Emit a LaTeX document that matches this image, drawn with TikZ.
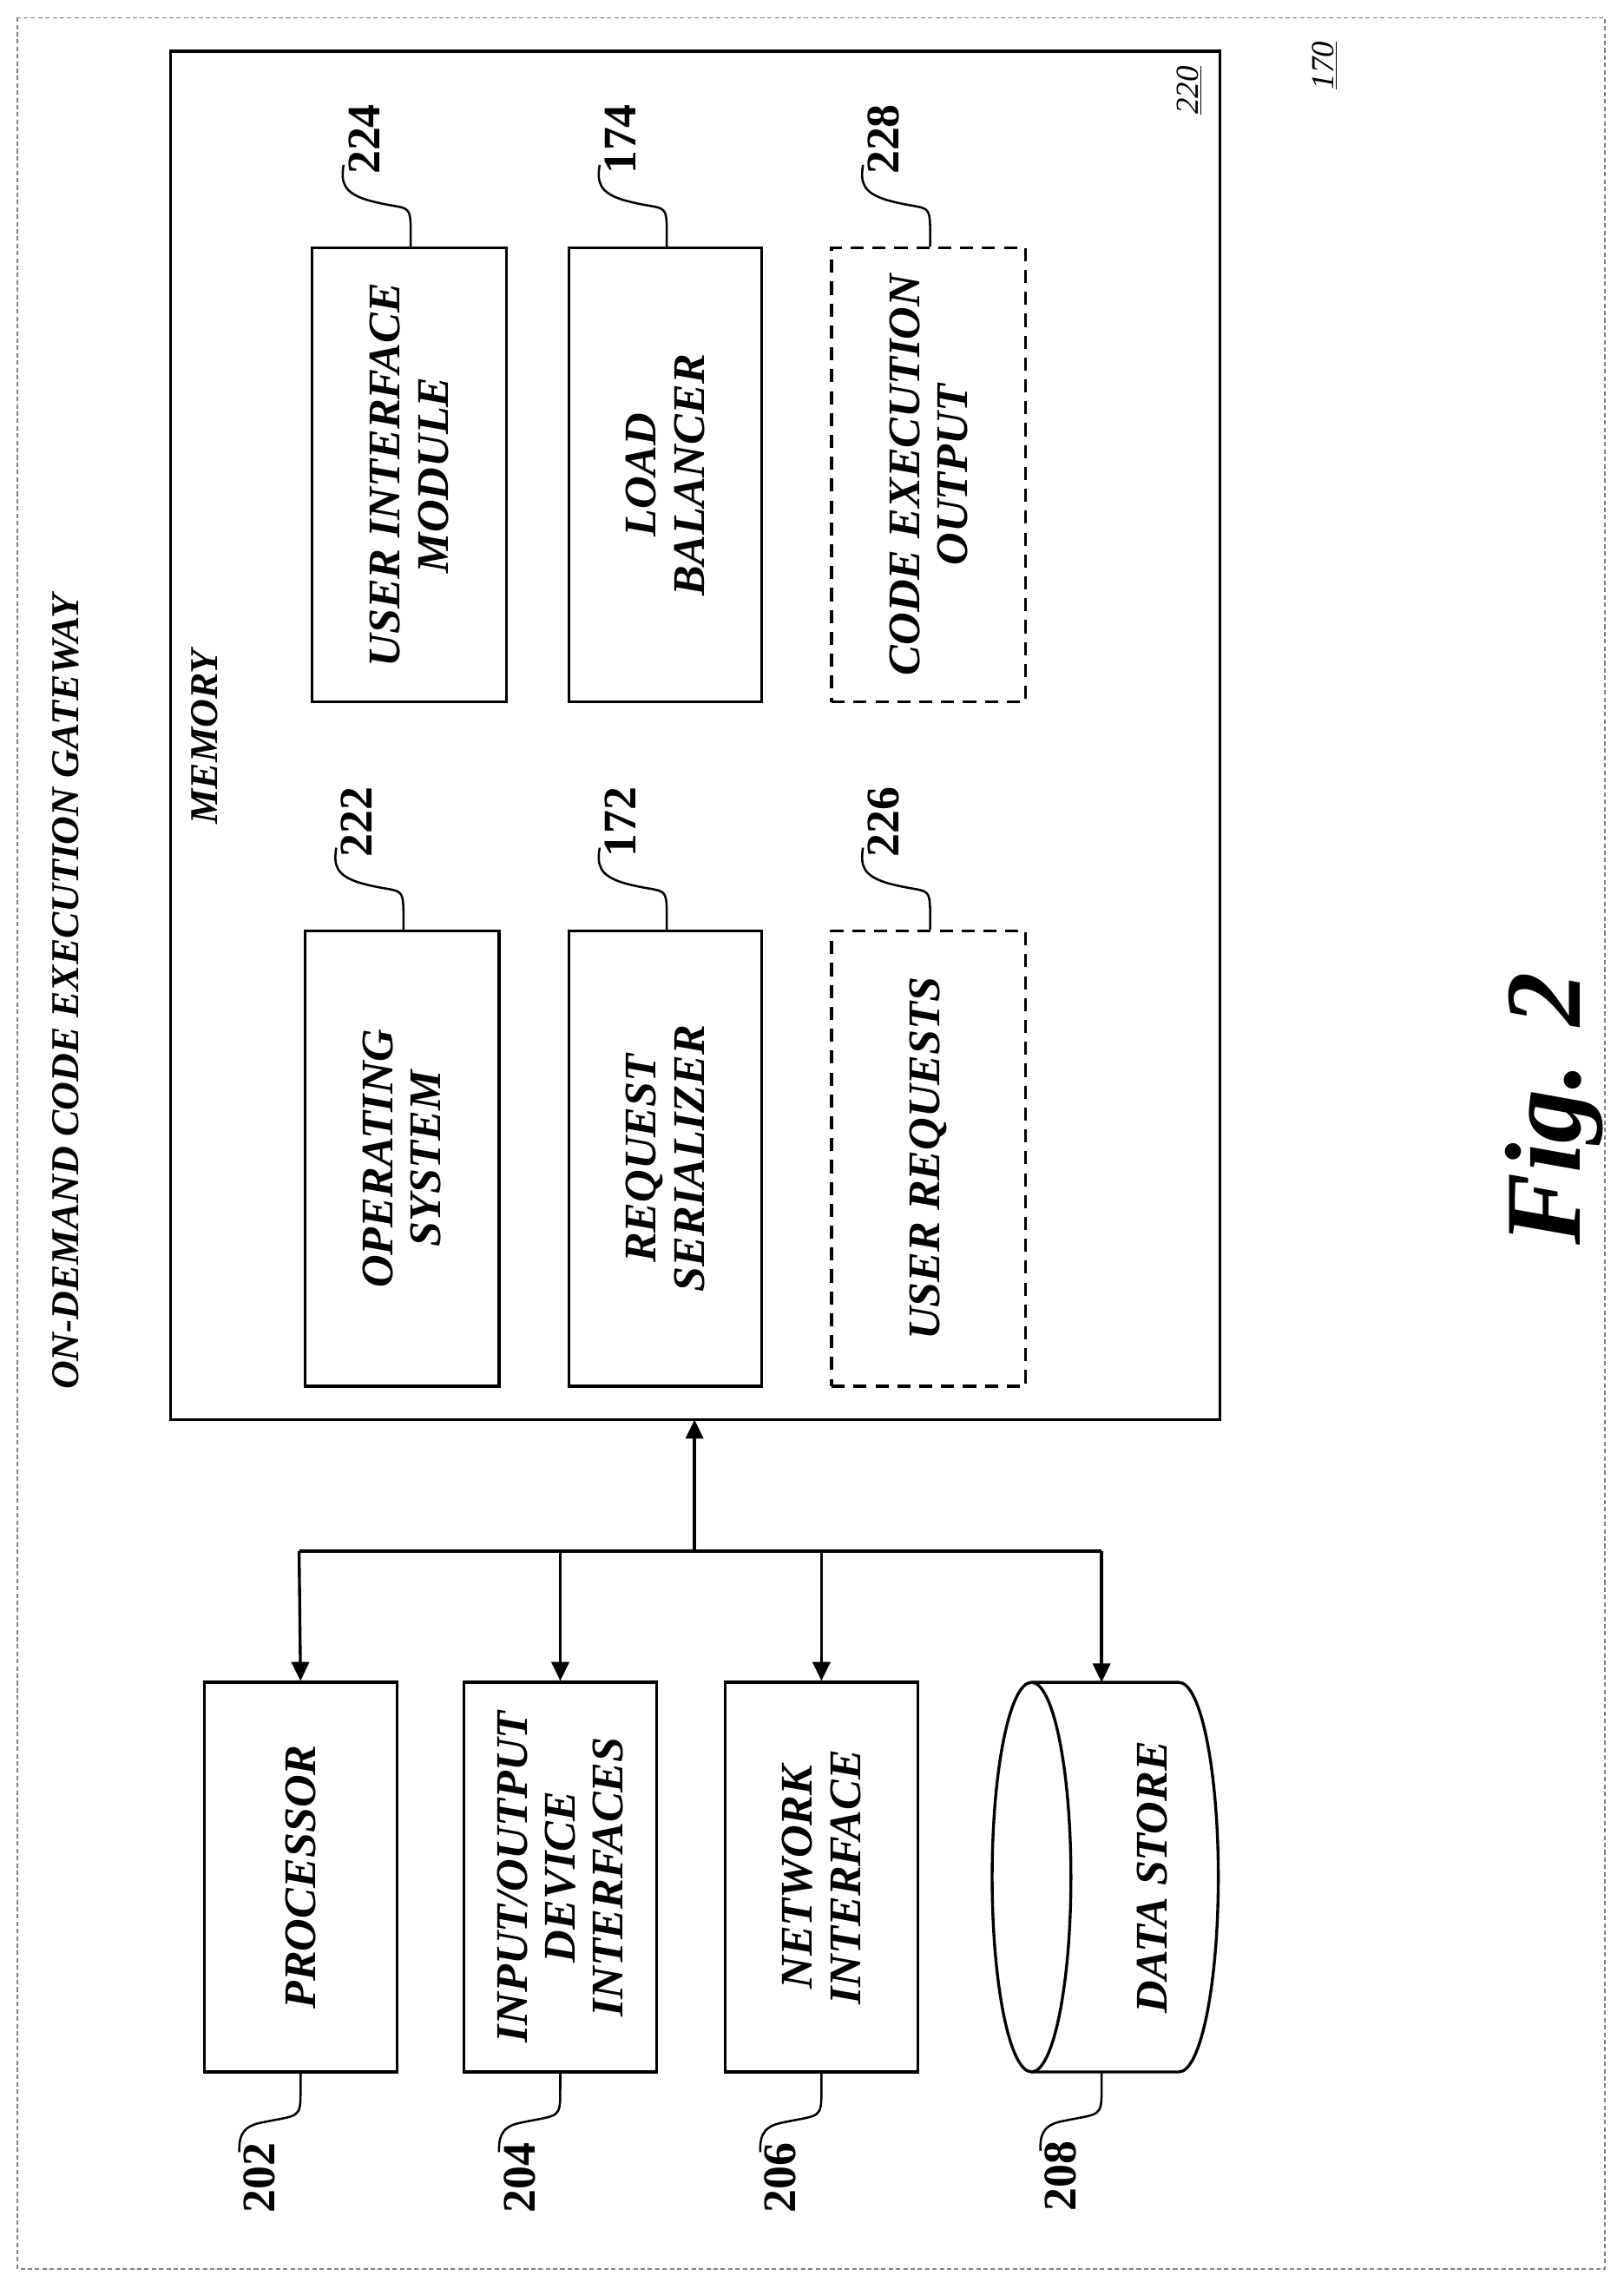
\documentclass[tikz,border=0pt]{standalone}
\usepackage{fontspec}
\setmainfont{Liberation Serif}
\usetikzlibrary{arrows.meta}
\begin{document}
\begin{tikzpicture}[x=1pt,y=-1pt,
  lbl/.style={rotate=90,align=center,font=\fontsize{31}{33}\selectfont\bfseries\itshape},
  num/.style={rotate=90,font=\fontsize{32}{34}\selectfont\bfseries},
  box/.style={draw,line width=2pt},
  dbox/.style={draw,line width=2pt,dash pattern=on 9pt off 6pt},
  ln/.style={line width=2pt},
  arr/.style={line width=2pt,-{Triangle[length=13pt,width=12pt]}}]
\useasboundingbox (0,0) rectangle (1113,1564);
\draw[gray,dash pattern=on 3pt off 2pt,line width=0.8pt] (12,12) rectangle (1100,1555);
\node[rotate=90,font=\fontsize{22}{24}\selectfont\itshape] (n170) at (908,45) {\underline{170}};
\node[lbl,font=\fontsize{27}{29}\selectfont\bfseries\itshape] (title) at (45,680) {ON-DEMAND CODE EXECUTION GATEWAY};
\draw[box] (117,35) rectangle (836,973);
\coordinate (mem) at (476,973);
\node[rotate=90,font=\fontsize{22}{24}\selectfont\itshape] (n220) at (815,62) {\underline{220}};
\node[lbl,font=\fontsize{27}{29}\selectfont\bfseries\itshape] (memory) at (140,505) {MEMORY};
% memory boxes
\node[box,minimum width=133pt,minimum height=311pt] (uim) at (280.5,325.5) {};
\node[lbl] at (uim) {USER INTERFACE\\MODULE};
\node[box,minimum width=132pt,minimum height=311pt] (lb) at (456,325.5) {};
\node[lbl] at (lb) {LOAD\\BALANCER};
\node[dbox,minimum width=133pt,minimum height=311pt] (ceo) at (636.5,325.5) {};
\node[lbl] at (ceo) {CODE EXECUTION\\OUTPUT};
\node[box,minimum width=133pt,minimum height=312pt] (os) at (275.5,794) {};
\node[lbl] at (os) {OPERATING\\SYSTEM};
\node[box,minimum width=132pt,minimum height=312pt] (rs) at (456,794) {};
\node[lbl] at (rs) {REQUEST\\SERIALIZER};
\node[dbox,minimum width=133pt,minimum height=312pt] (ur) at (636.5,794) {};
\node[lbl] at (ur) {USER REQUESTS};
% top leaders
\foreach \b/\n/\t in {uim/224/a,lb/174/b,ceo/228/c,os/222/d,rs/172/e,ur/226/f}{
  \draw[line width=1.5pt] ([xshift=1pt]\b.north) -- ++(0,-10) .. controls +(0,-22) and +(28,8) .. ++(-30,-22) .. controls +(-16,-5) and +(-2,12) .. ++(-16,-24) coordinate (l\t);
  \node[num,anchor=west] (lab\n) at ([xshift=14pt,yshift=-10pt]l\t) {\n};
}
% bottom boxes
\node[box,minimum width=132pt,minimum height=267pt] (proc) at (206,1286.5) {};
\node[lbl] at (proc) {PROCESSOR};
\node[box,minimum width=132pt,minimum height=267pt] (io) at (384,1286.5) {};
\node[lbl] at (io) {INPUT/OUTPUT\\DEVICE\\INTERFACES};
\node[box,minimum width=132pt,minimum height=267pt] (net) at (563,1286.5) {};
\node[lbl] at (net) {NETWORK\\INTERFACE};
% data store cylinder
\draw[ln] (707,1153) -- (808,1153) arc[start angle=-90,end angle=90,x radius=27,y radius=133.5] -- (707,1420);
\draw[ln] (707,1286.5) ellipse[x radius=27,y radius=133.5];
\coordinate (dsn) at (755,1153);
\node[lbl] (ds) at (790,1286.5) {DATA STORE};
% bus
\coordinate (bus) at (476,1063);
\draw[arr] (bus) -- (mem);
\draw[ln] (205,1063) -- (755,1063);
\draw[arr] (205,1063) -- (proc.north);
\draw[arr] (384,1063) -- (io.north);
\draw[arr] (563,1063) -- (net.north);
\draw[arr] (755,1063) -- (dsn);
% bottom leaders
\coordinate (dss) at (755,1420);
\foreach \b/\n in {proc.south/202,io.south/204,net.south/206,dss/208}{
  \draw[line width=1.5pt] (\b) -- ++(0,10) .. controls +(0,22) and +(28,-6) .. ++(-28,24) .. controls +(-14,3) and +(0,-8) .. ++(-14,20) coordinate (bl);
  \node[num,anchor=east] (lab\n) at ([xshift=14pt,yshift=10pt]bl) {\n};
}
\node[rotate=90,font=\fontsize{74}{78}\selectfont\bfseries\itshape] (fig) at (1065,760) {Fig. 2};
\end{tikzpicture}
\end{document}
